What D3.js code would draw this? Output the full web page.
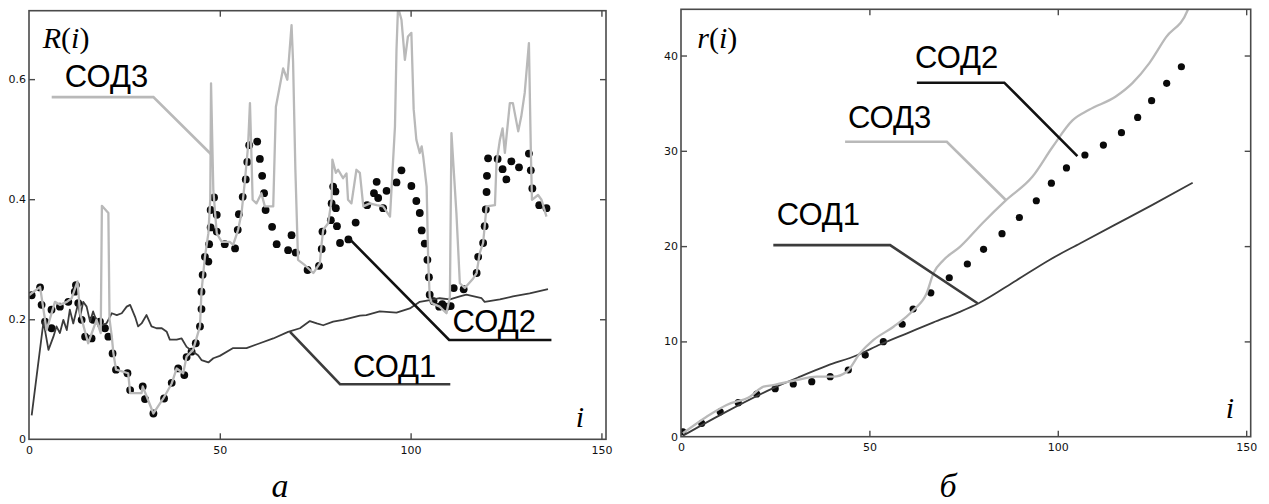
<!DOCTYPE html>
<html><head><meta charset="utf-8">
<script src="https://cdn.jsdelivr.net/npm/d3@7"></script>
<style>body{margin:0;background:#fff} svg{display:block}</style>
</head><body>
<svg id="c" width="1269" height="504"></svg>
<script>
// ---------- DATA ----------
const xTicks = [0, 50, 100, 150];
const leftYTicks = [0, 0.2, 0.4, 0.6];
const rightYTicks = [0, 10, 20, 30, 40];
const seriesNames = ["СОД1", "СОД2", "СОД3"];
const panelLetters = ["а", "б"];
const leftYLabel = "R", rightYLabel = "r", xLabel = "i";

// panel а : R(i)  — pairs [i, value]
const sod1A = [[0.7,0.04],[3.8,0.196],[5.1,0.149],[6.4,0.171],[7.2,0.188],[8.1,0.177],[9.0,0.199],[9.9,0.182],[10.7,0.216],[11.6,0.193],[12.9,0.227],[13.4,0.204],[14.2,0.229],[15.1,0.221],[16.0,0.196],[16.8,0.213],[18.2,0.188],[20.3,0.193],[21.7,0.21],[23.0,0.207],[24.3,0.21],[25.6,0.221],[26.5,0.224],[27.8,0.204],[28.6,0.188],[29.5,0.193],[30.8,0.207],[32.1,0.188],[33.4,0.185],[34.8,0.185],[36.1,0.179],[36.9,0.166],[38.7,0.166],[40.0,0.168],[41.3,0.154],[43.0,0.146],[44.3,0.14],[45.2,0.132],[47.0,0.128],[48.3,0.135],[50.0,0.139],[53.5,0.152],[57.0,0.152],[60.5,0.16],[64.0,0.168],[67.9,0.179],[71.0,0.185],[73.6,0.197],[75.4,0.193],[77.1,0.19],[79.7,0.196],[82.3,0.199],[84.1,0.202],[86.7,0.206],[88.4,0.207],[91.9,0.213],[96.3,0.211],[99.8,0.218],[102.4,0.229],[105.0,0.232],[107.6,0.235],[110.3,0.233],[112.9,0.238],[114.6,0.241],[118.6,0.235],[119.4,0.229],[123.4,0.233],[126.8,0.238],[131.2,0.243],[136.0,0.25]];
const sod2A = [[0.7,0.24],[2.9,0.253],[3.3,0.224],[4.2,0.196],[5.9,0.185],[5.9,0.216],[8.1,0.221],[10.3,0.229],[12.0,0.246],[12.3,0.257],[12.9,0.227],[13.8,0.199],[14.7,0.171],[16.4,0.168],[16.8,0.199],[18.6,0.196],[19.9,0.185],[20.8,0.171],[21.9,0.143],[22.8,0.116],[25.8,0.11],[26.5,0.082],[29.8,0.088],[30.4,0.067],[32.6,0.043],[35.4,0.068],[37.4,0.094],[39.1,0.118],[40.7,0.107],[41.3,0.137],[42.6,0.146],[43.7,0.16],[44.8,0.188],[45.2,0.217],[45.2,0.246],[45.5,0.274],[46.1,0.304],[47.0,0.296],[47.2,0.325],[47.6,0.353],[47.6,0.382],[48.5,0.403],[49.2,0.346],[49.2,0.374],[51.3,0.325],[54.0,0.318],[54.7,0.349],[55.0,0.375],[56.0,0.404],[56.8,0.433],[57.2,0.462],[57.7,0.49],[59.8,0.496],[60.5,0.467],[61.1,0.439],[61.6,0.41],[62.0,0.382],[63.7,0.354],[64.9,0.325],[67.9,0.315],[68.8,0.34],[69.9,0.311],[73.0,0.282],[76.0,0.289],[76.7,0.317],[76.9,0.346],[79.1,0.365],[79.3,0.393],[79.7,0.421],[80.3,0.413],[80.4,0.385],[80.7,0.355],[81.5,0.327],[83.7,0.333],[85.6,0.361],[88.6,0.39],[90.4,0.41],[91.1,0.429],[91.5,0.402],[92.8,0.385],[93.7,0.414],[96.3,0.428],[97.6,0.448],[100.2,0.422],[101.5,0.397],[102.4,0.377],[102.9,0.348],[103.7,0.326],[104.4,0.299],[104.8,0.27],[105.0,0.241],[106.0,0.23],[107.5,0.221],[108.3,0.225],[109.4,0.221],[110.5,0.222],[111.3,0.252],[113.9,0.25],[117.3,0.277],[117.7,0.304],[119.0,0.327],[119.4,0.355],[119.7,0.383],[119.9,0.412],[120.0,0.439],[120.3,0.468],[122.8,0.467],[124.1,0.45],[125.1,0.433],[126.4,0.463],[128.4,0.453],[131.0,0.476],[131.5,0.448],[131.9,0.418],[133.7,0.39],[135.6,0.385]];
const sod3A = [[0,0.24],[2.9,0.254],[4.6,0.182],[6.8,0.229],[8.1,0.224],[9.9,0.229],[11.2,0.235],[12.7,0.263],[13.4,0.21],[15.5,0.16],[17.7,0.199],[18.8,0.177],[19.1,0.389],[20.8,0.377],[21.1,0.2],[21.7,0.171],[22.1,0.144],[22.8,0.116],[26.0,0.11],[26.5,0.077],[29.5,0.077],[29.8,0.088],[32.6,0.043],[35.2,0.068],[37.4,0.093],[38.7,0.118],[40.4,0.11],[41.3,0.138],[43.0,0.149],[44.8,0.188],[45.2,0.246],[46.1,0.304],[47.0,0.343],[47.5,0.40],[47.7,0.593],[48.3,0.415],[49.2,0.343],[50.5,0.329],[52.6,0.329],[53.5,0.324],[54.8,0.349],[55.7,0.377],[56.6,0.432],[57.4,0.488],[57.9,0.56],[58.3,0.471],[58.6,0.399],[59.6,0.393],[60.9,0.41],[61.8,0.388],[64.0,0.388],[64.7,0.554],[66.6,0.618],[67.7,0.599],[68.8,0.69],[69.2,0.629],[69.8,0.45],[70.5,0.299],[72.3,0.29],[74.5,0.277],[76.2,0.293],[76.7,0.327],[77.1,0.349],[78.4,0.36],[79.3,0.399],[79.5,0.466],[80.4,0.444],[81.0,0.449],[82.3,0.435],[83.2,0.443],[83.6,0.399],[84.5,0.393],[85.8,0.449],[86.7,0.444],[87.6,0.388],[89.3,0.393],[91.1,0.39],[92.8,0.388],[94.6,0.371],[95.9,0.521],[96.3,0.649],[96.7,0.72],[97.6,0.699],[98.5,0.632],[99.3,0.671],[100.2,0.677],[100.8,0.55],[101.5,0.499],[102.4,0.477],[102.9,0.488],[103.3,0.471],[104.2,0.421],[104.6,0.299],[105.0,0.238],[105.5,0.227],[107.6,0.221],[109.4,0.21],[110.3,0.238],[110.7,0.51],[112.0,0.377],[112.9,0.26],[114.2,0.252],[116.4,0.268],[117.3,0.277],[118.1,0.31],[119.0,0.327],[119.9,0.388],[122.1,0.39],[122.5,0.46],[123.4,0.499],[124.1,0.518],[124.7,0.477],[126.0,0.56],[126.8,0.56],[128.2,0.513],[129.0,0.538],[129.9,0.577],[131.0,0.66],[131.5,0.482],[131.8,0.399],[133.4,0.407],[134.3,0.399],[135.6,0.371]];

// panel б : r(i)
const sod1B = [[0.5,0.1],[11.2,2.45],[24.5,5.1],[31.6,6.3],[38.8,7.45],[46.7,8.55],[53,9.7],[60,10.85],[67,12.0],[74,13.1],[79,14.0],[89,16.4],[98,18.6],[106,20.3],[115,22.2],[125,24.3],[135.8,26.65]];
const sod2B = [[0.5,0.52],[5.5,1.4],[10.4,2.62],[15.2,3.57],[20.1,4.48],[25,5.04],[29.8,5.53],[34.7,5.77],[39.6,6.3],[44.4,7.0],[48.9,8.57],[53.7,9.97],[58.7,11.8],[61.6,13.4],[66.3,15.1],[71.2,16.68],[76,18.12],[80.3,19.66],[85.2,21.3],[89.8,23.0],[94.3,24.76],[98.3,26.6],[102.3,28.2],[107.2,29.56],[112.1,30.6],[116.9,31.9],[121.2,33.5],[124.9,35.26],[128.9,37.08],[132.8,38.82]];
const sod3B = [[0.5,0.36],[6.8,2.1],[12.1,3.33],[18.3,4.2],[21.9,5.25],[24.5,5.42],[30.7,5.95],[36,6.3],[40.4,6.3],[44,6.82],[47.5,8.75],[51.1,10.15],[56.4,11.54],[61.7,13.3],[65.2,15.05],[67,17.15],[69.7,18.54],[74.1,19.94],[80,22.4],[86.2,24.8],[93.3,27.3],[98.6,30.4],[103.9,33.2],[108.3,34.3],[115.4,35.7],[119.8,37.1],[124.3,39.2],[128.7,41.9],[134.4,44.7],[136,46.5]];

// annotation leaders (data units)
const leadersA = [
  {s:2, text:[9.4,0.587], pts:[[5.95,0.57],[32.6,0.57],[47.85,0.474]]},
  {s:1, text:[111.0,0.179], pts:[[84.1,0.333],[110.1,0.1655],[136.9,0.1655]]},
  {s:0, text:[84.9,0.104], pts:[[68.4,0.179],[81.5,0.0917],[110.4,0.0917]]}
];
const leadersB = [
  {s:1, text:[62.1,38.7], pts:[[105.2,29.45],[85.8,37.15],[62.6,37.15]]},
  {s:2, text:[44.3,32.4], pts:[[86.2,24.84],[70.55,30.95],[43.55,30.95]]},
  {s:0, text:[25.4,22.2], pts:[[78.7,14.0],[55.5,20.1],[24.5,20.1]]}
];

// ---------- DRAW ----------
const svg = d3.select("#c");
svg.append("rect").attr("width",1269).attr("height",504).attr("fill","#fff");
const lineColors = ["#3c3c3c", "#000", "#b9b9b9"];
const AX = "#4a4a4a";
const tickFmt = d3.format("~g");

function panel(cfg, idx) {
  const x = d3.scaleLinear().domain([0, 151.2]).range([cfg.x0, cfg.x1]);
  const y = d3.scaleLinear().domain([0, cfg.ymax]).range([cfg.y0, cfg.y1]);
  const g = svg.append("g");
  const cid = "clip" + idx;
  g.append("clipPath").attr("id", cid).append("rect")
    .attr("x", cfg.x0).attr("y", cfg.y1).attr("width", cfg.x1 - cfg.x0).attr("height", cfg.y0 - cfg.y1);
  const plot = g.append("g").attr("clip-path", `url(#${cid})`);
  const line = d3.line().x(d => x(d[0])).y(d => y(d[1]));
  const dataLine = d3.line().x(d => x(d[0])).y(d => y(d[1])).curve(cfg.curve);

  // dots (СОД2)
  plot.append("g").selectAll("circle").data(cfg.s2).join("circle")
    .attr("cx", d => x(d[0])).attr("cy", d => y(d[1])).attr("r", cfg.r).attr("fill", "#0a0a0a");
  // СОД1
  plot.append("path").datum(cfg.s1).attr("d", dataLine).attr("fill","none")
    .attr("stroke", lineColors[0]).attr("stroke-width", 1.8).attr("stroke-linejoin","round");
  // СОД3
  plot.append("path").datum(cfg.s3).attr("d", dataLine).attr("fill","none")
    .attr("stroke", lineColors[2]).attr("stroke-width", 2.3).attr("stroke-linejoin","round");

  // leaders
  cfg.leaders.forEach(L => {
    g.append("path").datum(L.pts).attr("d", line).attr("fill","none")
      .attr("stroke", L.s === 1 ? "#111" : lineColors[L.s]).attr("stroke-width", 2.6);
    g.append("text").attr("x", x(L.text[0])).attr("y", y(L.text[1]))
      .attr("font-family","Liberation Sans, Arial, sans-serif").attr("font-size", 31)
      .attr("fill","#000").text(seriesNames[L.s]);
  });

  // frame
  g.append("rect").attr("x", cfg.x0).attr("y", cfg.y1).attr("width", cfg.x1 - cfg.x0)
    .attr("height", cfg.y0 - cfg.y1).attr("fill","none").attr("stroke", AX).attr("stroke-width", 1.6);

  const fontTick = "DejaVu Sans, sans-serif";
  const styleAxis = sel => {
    sel.select(".domain").remove();
    sel.selectAll(".tick line").attr("stroke", AX).attr("stroke-width", 1.4);
    sel.selectAll(".tick text").attr("font-family", fontTick).attr("font-size", 11).attr("fill", "#111");
  };
  g.append("g").attr("transform", `translate(0,${cfg.y0})`)
    .call(d3.axisBottom(x).tickValues(xTicks).tickFormat(tickFmt).tickSizeInner(-6).tickSizeOuter(0).tickPadding(7)).call(styleAxis)
    .selectAll(".tick").filter(d => d === 0).select("line").remove();
  g.append("g").attr("transform", `translate(0,${cfg.y1})`)
    .call(d3.axisTop(x).tickValues(xTicks.filter(d => d > 0)).tickSizeInner(-6).tickSizeOuter(0).tickFormat("")).call(styleAxis);
  g.append("g").attr("transform", `translate(${cfg.x0},0)`)
    .call(d3.axisLeft(y).tickValues(cfg.yTicks).tickFormat(tickFmt).tickSizeInner(-6).tickSizeOuter(0).tickPadding(3)).call(styleAxis)
    .selectAll(".tick").filter(d => d === 0).select("line").remove();
  g.append("g").attr("transform", `translate(${cfg.x1},0)`)
    .call(d3.axisRight(y).tickValues(cfg.yTicks.filter(d => d > 0)).tickSizeInner(-6).tickSizeOuter(0).tickFormat("")).call(styleAxis);

  // axis names
  const ser = "Liberation Serif, Times New Roman, serif";
  const t = g.append("text").attr("x", x(cfg.ylab[0])).attr("y", y(cfg.ylab[1]))
    .attr("font-family", ser).attr("font-size", 30).attr("fill","#000");
  t.append("tspan").attr("font-style","italic").text(cfg.yname);
  t.append("tspan").text("(");
  t.append("tspan").attr("font-style","italic").text(xLabel);
  t.append("tspan").text(")");
  g.append("text").attr("x", x(cfg.xlab[0])).attr("y", y(cfg.xlab[1]))
    .attr("font-family", ser).attr("font-style","italic").attr("font-size", 30).attr("fill","#000").text(xLabel);
  g.append("text").attr("x", cfg.letterX).attr("y", 497).attr("text-anchor","middle")
    .attr("font-family", ser).attr("font-style","italic").attr("font-size", 34).attr("fill","#000").text(panelLetters[idx]);
}

panel({x0:29, x1:606, y0:439.3, y1:10.7, ymax:0.714, yTicks:leftYTicks, r:3.9, curve:d3.curveLinear,
  s1:sod1A, s2:sod2A, s3:sod3A, leaders:leadersA, yname:leftYLabel,
  ylab:[3.6,0.652], xlab:[143.3,0.021], letterX:280}, 0);
panel({x0:681, x1:1250.7, y0:436.7, y1:9.3, ymax:44.85, yTicks:rightYTicks, r:3.6, curve:d3.curveMonotoneX,
  s1:sod1B, s2:sod2B, s3:sod3B, leaders:leadersB, yname:rightYLabel,
  ylab:[4.3,40.8], xlab:[144.6,1.96], letterX:948}, 1);
</script>
</body></html>
